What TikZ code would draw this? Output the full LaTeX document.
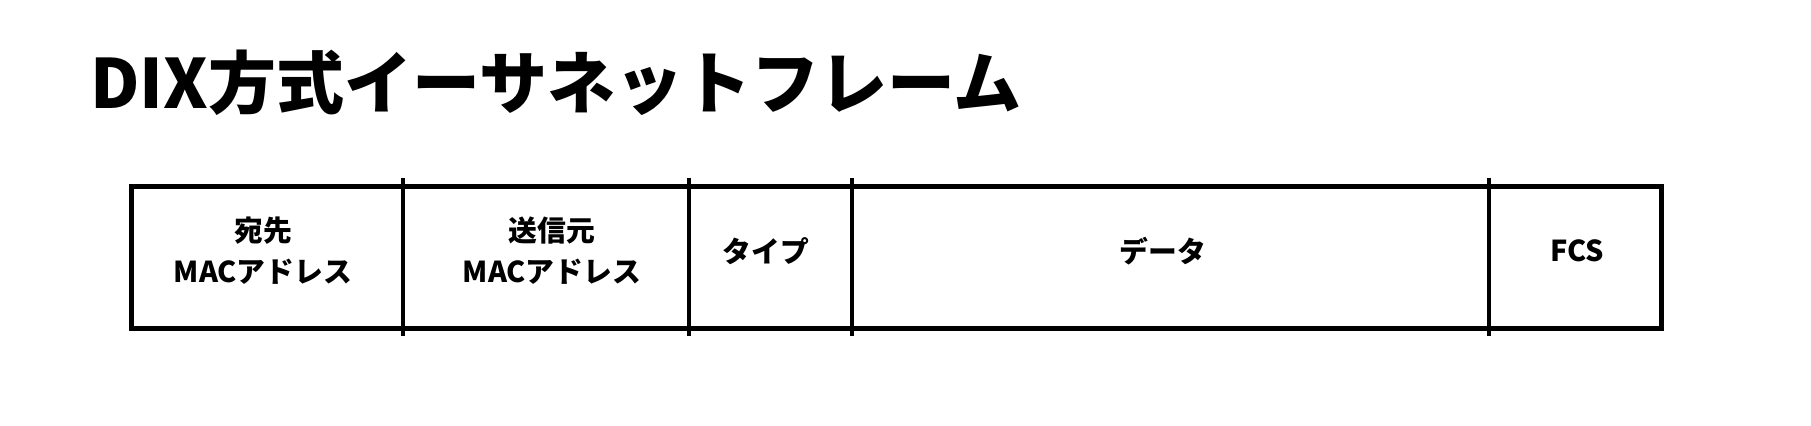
\documentclass[tikz,border=0pt]{standalone}
\usepackage{fontspec}
\setmainfont{Noto Sans CJK JP}
\begin{document}
\begin{tikzpicture}[x=0.5pt, y=-0.5pt,
  field/.style={font=\bfseries\fontsize{14.4}{20.5}\selectfont, align=center, inner sep=0pt}]
\useasboundingbox (0,0) rectangle (1811,426);
\node[anchor=base west, inner sep=0pt, font=\bfseries\fontsize{34}{40}\selectfont] (title) at (90,109) {DIX方式イーサネットフレーム};
\draw[line width=2.5pt] (131.5,186.5) rectangle (1661.5,328.5);
\foreach \x in {403,689,851.5,1489}
  \draw[line width=2pt] (\x,178) -- (\x,336);
\node[field] (dst) at (263,251) {宛先\\MACアドレス};
\node[field] (src) at (552,251) {送信元\\MACアドレス};
\node[field] (type) at (766,251) {タイプ};
\node[field] (data) at (1163,251) {データ};
\node[field] (fcs) at (1577,251) {FCS};
\end{tikzpicture}
\end{document}
